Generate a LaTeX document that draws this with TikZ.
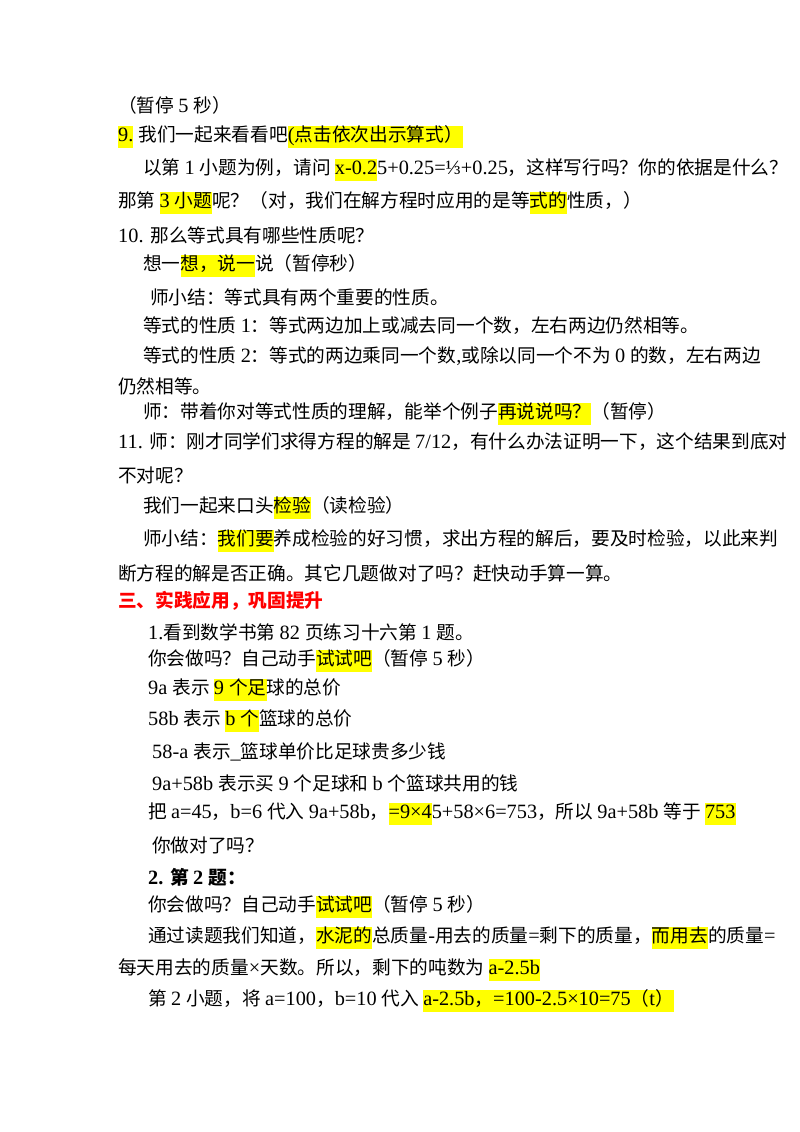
\documentclass[tikz,border=0pt]{standalone}
\usepackage{fontspec}
\setmainfont{Liberation Serif}
\newfontfamily\cjkf[Scale=0.92]{Noto Sans CJK SC}
\newfontfamily\latf{Liberation Serif}
\XeTeXinterchartokenstate=1
\newXeTeXintercharclass\CJKcls
\count255="4E00
\loop\XeTeXcharclass\count255=\CJKcls\ifnum\count255<"9FFF\advance\count255 by 1\repeat
\count255="3000
\loop\XeTeXcharclass\count255=\CJKcls\ifnum\count255<"303F\advance\count255 by 1\repeat
\count255="FF00
\loop\XeTeXcharclass\count255=\CJKcls\ifnum\count255<"FFEF\advance\count255 by 1\repeat
\XeTeXinterchartoks 0 \CJKcls={\cjkf}
\XeTeXinterchartoks 4095 \CJKcls={\cjkf}
\XeTeXinterchartoks \CJKcls 0={\latf}
\XeTeXinterchartoks 4095 0={\latf}
\definecolor{hly}{HTML}{FFFF00}
\newcommand{\hl}[1]{{\setlength{\fboxsep}{0pt}\colorbox{hly}{\strut #1}}}
\begin{document}
\begin{tikzpicture}[x=1pt,y=-1pt,
  ln/.style={anchor=west,inner sep=0pt,font=\fontsize{20.3}{22}\selectfont},
  hd/.style={ln,font=\fontsize{20.3}{22}\selectfont\bfseries}]
\useasboundingbox[fill=white] (0,0) rectangle (800,1132);
\node[ln] (l1) at (118,105) {（暂停 5 秒）};
\node[ln] (l2) at (118,137) {\hl{9.} 我们一起来看看吧\hl{(点击依次出示算式）}};
\node[ln] (l3) at (143,170) {以第 1 小题为例，请问 \hl{x-0.2}5+0.25=⅓+0.25，这样写行吗？你的依据是什么？};
\node[ln] (l4) at (118,203) {那第 \hl{3 小题}呢？（对，我们在解方程时应用的是等\hl{式的}性质，）};
\node[ln] (l5) at (118,235) {10. 那么等式具有哪些性质呢？};
\node[ln] (l6) at (143,266) {想一\hl{想，说一}说（暂停秒）};
\node[ln] (l7) at (150,297) {师小结：等式具有两个重要的性质。};
\node[ln] (l8) at (143,326) {等式的性质 1：等式两边加上或减去同一个数，左右两边仍然相等。};
\node[ln] (l9) at (143,356) {等式的性质 2：等式的两边乘同一个数,或除以同一个不为 0 的数，左右两边};
\node[ln] (l10) at (118,386) {仍然相等。};
\node[ln] (l11) at (143,414) {师：带着你对等式性质的理解，能举个例子\hl{再说说吗？}（暂停）};
\node[ln] (l12) at (118,442) {11. 师：刚才同学们求得方程的解是 7/12，有什么办法证明一下，这个结果到底对};
\node[ln] (l13) at (118,475) {不对呢？};
\node[ln] (l14) at (143,508) {我们一起来口头\hl{检验}（读检验）};
\node[ln] (l15) at (143,541) {师小结：\hl{我们要}养成检验的好习惯，求出方程的解后，要及时检验，以此来判};
\node[ln] (l16) at (118,573) {断方程的解是否正确。其它几题做对了吗？赶快动手算一算。};
\node[hd,text=red] (l17) at (118,601) {三、实践应用，巩固提升};
\node[ln] (l18) at (148,632) {1.看到数学书第 82 页练习十六第 1 题。};
\node[ln] (l19) at (148,661) {你会做吗？自己动手\hl{试试吧}（暂停 5 秒）};
\node[ln] (l20) at (148,690) {9a 表示 \hl{9 个足}球的总价};
\node[ln] (l21) at (148,721) {58b 表示 \hl{b 个}篮球的总价};
\node[ln] (l22) at (152,752) {58-a 表示\_篮球单价比足球贵多少钱};
\node[ln] (l23) at (152,783) {9a+58b 表示买 9 个足球和 b 个篮球共用的钱};
\node[ln] (l24) at (148,814) {把 a=45，b=6 代入 9a+58b，\hl{=9×4}5+58×6=753，所以 9a+58b 等于 \hl{753}};
\node[ln] (l25) at (152,845) {你做对了吗？};
\node[hd] (l26) at (148,877) {2. 第 2 题：};
\node[ln] (l27) at (148,907) {你会做吗？自己动手\hl{试试吧}（暂停 5 秒）};
\node[ln] (l28) at (148,938) {通过读题我们知道，\hl{水泥的}总质量-用去的质量=剩下的质量，\hl{而用去}的质量=};
\node[ln] (l29) at (118,970) {每天用去的质量×天数。所以，剩下的吨数为 \hl{a-2.5b}};
\node[ln] (l30) at (148,1001) {第 2 小题，将 a=100，b=10 代入 \hl{a-2.5b，=100-2.5×10=75（t）}};
\end{tikzpicture}
\end{document}
